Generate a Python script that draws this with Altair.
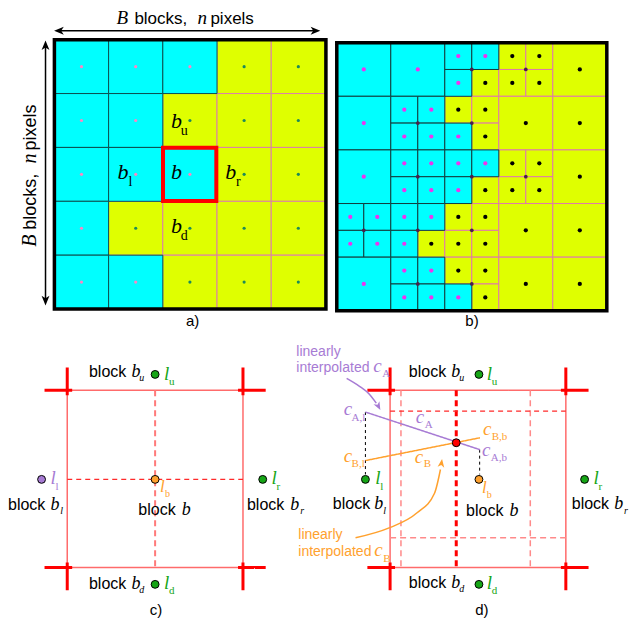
import altair as alt
import pandas as pd

# ---------------- colours ----------------
CYAN, YEL = "#00ffff", "#dfff00"
RED, LRED, DRED = "#ff0000", "#ff6b6b", "#ff2a2a"
PURPLE, ORANGE, GREEN = "#a77bd4", "#ffa12e", "#16a516"

# ---------------- panel a: 5x5 uniform blocks (C = cyan, Y = yellow) ----------------
A_ROWS = ["CCCYY", "CCYYY", "CCCYY", "CYYYY", "CCYYY"]
A_ORIGIN, A_CELL = (47, 38), (54.9, 54.4)

# ---------------- panel b: quadtree blocks (1 code = whole block, 4 codes = TL,TR,BL,BR) -------
B_ROWS = [["C", "C", "CCCY", "YYYY", "Y"],
          ["C", "CCCC", "YYCY", "Y", "Y"],
          ["C", "CCCC", "CCCY", "YYYY", "Y"],
          ["CCCC", "CCCY", "YYYY", "Y", "Y"],
          ["C", "CCCC", "YYCY", "Y", "Y"]]
B_ORIGIN, B_CELL = (333, 41), (54.7, 54.15)

cells, dots = [], []
for r, row in enumerate(A_ROWS):
    for c, code in enumerate(row):
        x = A_ORIGIN[0] + c * A_CELL[0]
        y = A_ORIGIN[1] + r * A_CELL[1]
        cy = code == "C"
        cells.append(dict(x=x, x2=x + A_CELL[0], y=y, y2=y + A_CELL[1],
                          fill=CYAN if cy else YEL, stroke="#0c4f4f" if cy else "#dc7fa9",
                          k=1 if cy else 0))
        dots.append(dict(x=x + A_CELL[0] / 2, y=y + A_CELL[1] / 2,
                         col="#ff85c2" if cy else "#1c8a5a", s=10))

for r, row in enumerate(B_ROWS):
    for c, code in enumerate(row):
        x0 = B_ORIGIN[0] + c * B_CELL[0]
        y0 = B_ORIGIN[1] + r * B_CELL[1]
        if len(code) == 1:
            parts = [(x0, y0, B_CELL[0], B_CELL[1], code)]
        else:
            hw, hh = B_CELL[0] / 2, B_CELL[1] / 2
            parts = [(x0 + (q % 2) * hw, y0 + (q // 2) * hh, hw, hh, code[q]) for q in range(4)]
        for (x, y, w, h, k) in parts:
            cy = k == "C"
            cells.append(dict(x=x, x2=x + w, y=y, y2=y + h,
                              fill=CYAN if cy else YEL, stroke="#123c3c" if cy else "#e07aa8",
                              k=1 if cy else 0))
            dots.append(dict(x=x + w / 2, y=y + h / 2, col="#ee33ee" if cy else "black", s=18))
        if len(code) == 4:
            dots.append(dict(x=x0 + B_CELL[0] / 2, y=y0 + B_CELL[1] / 2, col="#4a1f4a", s=14))

cells_df = pd.DataFrame(cells).sort_values("k", kind="stable")
dots_df = pd.DataFrame(dots)

# outlines: x, y, x2, y2, colour, width
FRAMES = [(47, 38, 322, 310, "black", 3.5),
          (157, 147, 211, 201, RED, 4),
          (333, 41, 606.5, 311.7, "black", 3.5)]
frames_df = pd.DataFrame(FRAMES, columns=["x", "y", "x2", "y2", "col", "w"])

# ---------------- panels c and d: block boxes with corner crosses ----------------
BOXES = [(60, 392, 238, 571), (387, 392, 565, 571)]
CROSS_OUT, CROSS_IN = 23, 5

SEGMENTS = []  # x, y, x2, y2, colour, width, dash
for (l, t, rr, b) in BOXES:
    SEGMENTS += [(l, t, rr, t, LRED, 1.5, "solid"), (l, b, rr, b, LRED, 1.5, "solid"),
                 (l, t, l, b, LRED, 1.5, "solid"), (rr, t, rr, b, LRED, 1.5, "solid")]
    for (cx, hx) in [(l, -1), (rr, 1)]:
        for (cyy, vy) in [(t, -1), (b, 1)]:
            SEGMENTS.append((cx + hx * CROSS_OUT, cyy, cx - hx * CROSS_IN, cyy, RED, 3, "solid"))
            SEGMENTS.append((cx, cyy + vy * CROSS_OUT, cx, cyy - vy * CROSS_IN, RED, 3, "solid"))

SEGMENTS += [
    # panel a arrows (shafts)
    (52, 29, 311, 29, "black", 1.5, "solid"),
    (38, 44, 38, 301, "black", 1.5, "solid"),
    # panel c dashed guides
    (149, 392, 149, 571, "#ff7a7a", 2, "d1"),
    (60, 482, 238, 482, DRED, 1.2, "d2"),
    # panel d dashed guides
    (398, 392, 398, 571, "#ff8a8a", 1.5, "d1"),
    (529, 392, 529, 571, "#ff8a8a", 1.5, "d1"),
    (454, 392, 454, 571, RED, 3, "d1"),
    (387, 413, 565, 413, DRED, 1.2, "d2"),
    (387, 541, 565, 541, "#ff8a8a", 1.5, "d1"),
    (362, 414, 362, 477, "black", 1, "d3"),
    (477.7, 452, 477.7, 477, "black", 1, "d3"),
    # interpolation lines
    (362, 414, 478, 452, PURPLE, 1.5, "solid"),
    (362, 463, 478, 440, ORANGE, 1.5, "solid"),
]
seg_df = pd.DataFrame(SEGMENTS, columns=["x", "y", "x2", "y2", "col", "w", "dash"])

# curved annotation arrows
CURVE_PURPLE = [(343, 380), (356, 388), (366, 396), (373, 405)]
CURVE_ORANGE = [(352, 541), (386, 531), (414, 516), (432, 496), (438, 472)]
curve_rows = []
for g, (pts, col) in enumerate([(CURVE_PURPLE, PURPLE), (CURVE_ORANGE, ORANGE)]):
    for i, (x, y) in enumerate(pts):
        curve_rows.append(dict(x=x, y=y, g=g, i=i, col=col))
curve_df = pd.DataFrame(curve_rows)

# arrow heads (stealth shape pointing up, rotated): x, y, angle, colour, size
ARROW_PATH = "M0,-1L0.75,0.85L0,0.35L-0.75,0.85Z"
HEADS = [(52, 29, 270, "black", 110), (311, 29, 90, "black", 110),
         (38, 44, 0, "black", 110), (38, 301, 180, "black", 110),
         (375, 408, 152, PURPLE, 80), (439, 466, 8, ORANGE, 80)]
heads_df = pd.DataFrame(HEADS, columns=["x", "y", "ang", "col", "s"])

# landmark points: x, y, colour
POINTS = [(149, 376, GREEN), (149, 588, GREEN), (34, 482, PURPLE), (258, 482, GREEN),
          (149, 482, ORANGE),
          (477, 376, GREEN), (477, 588, GREEN), (362, 482, GREEN), (584, 482, GREEN),
          (477, 482, ORANGE), (454, 445, RED)]
points_df = pd.DataFrame(POINTS, columns=["x", "y", "col"])

# ---------------- text ----------------
# text, x (left), y (baseline), size, colour, angle
SANS = [("blocks,", 128, 22, 17, "black", 0), ("pixels", 205, 22, 17, "black", 0),
        ("blocks,", 28, 230, 18, "black", 270), ("pixels", 28, 150, 18, "black", 270),
        ("block", 82, 379, 16, "black", 0), ("block", 0, 513, 16, "black", 0),
        ("block", 132, 518, 16, "black", 0), ("block", 242, 513, 16, "black", 0),
        ("block", 82, 593, 16, "black", 0),
        ("block", 406, 379, 16, "black", 0), ("block", 329, 512, 16, "black", 0),
        ("block", 464, 519, 16, "black", 0), ("block", 571, 512, 16, "black", 0),
        ("block", 406, 592, 16, "black", 0),
        ("linearly", 292, 357, 14, PURPLE, 0), ("interpolated", 292, 374, 14, PURPLE, 0),
        ("linearly", 294, 542, 14, ORANGE, 0), ("interpolated", 294, 559, 14, ORANGE, 0)]
CAPTIONS = [("a)", 187, 327), ("b)", 470, 327), ("c)", 150, 619), ("d)", 480, 619)]
SERIF_ITALIC = [("B", 110, 22, 19, "black", 0), ("n", 192, 22, 19, "black", 0),
                ("B", 28, 247, 20, "black", 270), ("n", 28, 163, 20, "black", 270),
                ("b", 165, 127, 22, "black", 0), ("b", 111, 179, 22, "black", 0),
                ("b", 165, 179, 22, "black", 0), ("b", 220, 179, 22, "black", 0),
                ("b", 165, 233, 22, "black", 0),
                ("b", 125, 379, 18, "black", 0), ("b", 43, 513, 18, "black", 0),
                ("b", 176, 518, 18, "black", 0), ("b", 286, 513, 18, "black", 0),
                ("b", 125, 593, 18, "black", 0),
                ("b", 449, 379, 18, "black", 0), ("b", 371, 512, 18, "black", 0),
                ("b", 508, 519, 18, "black", 0), ("b", 614, 512, 18, "black", 0),
                ("b", 449, 592, 18, "black", 0),
                ("l", 158, 382, 19, GREEN, 0), ("l", 43, 487, 19, PURPLE, 0),
                ("l", 154, 495, 17, ORANGE, 0), ("l", 267, 487, 19, GREEN, 0),
                ("l", 158, 593, 19, GREEN, 0),
                ("l", 485, 382, 19, GREEN, 0), ("l", 372, 487, 19, GREEN, 0),
                ("l", 480, 496, 17, ORANGE, 0), ("l", 593, 487, 19, GREEN, 0),
                ("l", 485, 593, 19, GREEN, 0),
                ("c", 370, 374, 19, PURPLE, 0), ("c", 340, 417, 19, PURPLE, 0),
                ("c", 413, 425, 19, PURPLE, 0), ("c", 480, 458, 19, PURPLE, 0),
                ("c", 371, 559, 19, ORANGE, 0), ("c", 340, 464, 19, ORANGE, 0),
                ("c", 412, 465, 19, ORANGE, 0), ("c", 481, 437, 19, ORANGE, 0),
                ("u", 133, 383, 10, "black", 0), ("l", 53, 517, 10, "black", 0),
                ("r", 296, 517, 10, "black", 0), ("d", 133, 597, 10, "black", 0),
                ("u", 457, 383, 10, "black", 0), ("l", 380, 517, 10, "black", 0),
                ("r", 624, 517, 10, "black", 0), ("d", 457, 596, 10, "black", 0)]
SERIF = [("u", 175, 134, 14, "black", 0), ("l", 122, 186, 14, "black", 0),
         ("r", 231, 186, 14, "black", 0), ("d", 175, 240, 14, "black", 0),
         ("u", 163, 387, 11, GREEN, 0), ("l", 48, 493, 11, PURPLE, 0),
         ("b", 159, 500, 10, ORANGE, 0), ("r", 272, 493, 11, GREEN, 0),
         ("d", 163, 598, 11, GREEN, 0),
         ("u", 490, 387, 11, GREEN, 0), ("l", 377, 493, 11, GREEN, 0),
         ("b", 485, 501, 10, ORANGE, 0), ("r", 598, 493, 11, GREEN, 0),
         ("d", 490, 598, 11, GREEN, 0),
         ("A", 379, 379, 11, PURPLE, 0), ("A,l", 348, 423, 11, PURPLE, 0),
         ("A", 422, 430, 11, PURPLE, 0), ("A,b", 489, 463, 11, PURPLE, 0),
         ("B", 380, 565, 11, ORANGE, 0), ("B,l", 348, 469, 11, ORANGE, 0),
         ("B", 421, 470, 11, ORANGE, 0), ("B,b", 490, 442, 11, ORANGE, 0)]

TCOLS = ["t", "x", "y", "s", "col", "ang"]
sans_df = pd.DataFrame(SANS, columns=TCOLS)
cap_df = pd.DataFrame(CAPTIONS, columns=["t", "x", "y"])
seri_df = pd.DataFrame(SERIF_ITALIC, columns=TCOLS)
serif_df = pd.DataFrame(SERIF, columns=TCOLS)

# ---------------- scales ----------------
sx = alt.Scale(domain=[0, 631], nice=False, zero=False)
sy = alt.Scale(domain=[6, 624], nice=False, zero=False, reverse=True)


def X(f="x"):
    return alt.X(f, type="quantitative", scale=sx, axis=None)


def Y(f="y"):
    return alt.Y(f, type="quantitative", scale=sy, axis=None)


cells_layer = alt.Chart(cells_df).mark_rect(strokeWidth=1, opacity=1).encode(
    x=X(), x2="x2", y=Y(), y2="y2",
    fill=alt.Fill("fill:N", scale=None), stroke=alt.Stroke("stroke:N", scale=None))

dots_layer = alt.Chart(dots_df).mark_circle(opacity=1).encode(
    x=X(), y=Y(), color=alt.Color("col:N", scale=None), size=alt.Size("s:Q", scale=None))

frames_layer = alt.Chart(frames_df).mark_rect(filled=False, opacity=1).encode(
    x=X(), x2="x2", y=Y(), y2="y2",
    stroke=alt.Stroke("col:N", scale=None), strokeWidth=alt.StrokeWidth("w:Q", scale=None))

seg_layer = alt.Chart(seg_df).mark_rule(strokeCap="butt").encode(
    x=X(), x2="x2", y=Y(), y2="y2",
    color=alt.Color("col:N", scale=None),
    strokeWidth=alt.StrokeWidth("w:Q", scale=None),
    strokeDash=alt.StrokeDash("dash:N", legend=None,
                              scale=alt.Scale(domain=["solid", "d1", "d2", "d3"],
                                              range=[[1, 0], [6, 4], [5, 4], [3, 3]])))

curve_layer = alt.Chart(curve_df).mark_line(interpolate="monotone", strokeWidth=1.5).encode(
    x=X(), y=Y(), detail="g:N", order="i:Q", color=alt.Color("col:N", scale=None))

heads_layer = alt.Chart(heads_df).mark_point(shape=ARROW_PATH, filled=True, opacity=1).encode(
    x=X(), y=Y(), angle=alt.Angle("ang:Q", scale=None),
    color=alt.Color("col:N", scale=None), size=alt.Size("s:Q", scale=None))

points_layer = alt.Chart(points_df).mark_circle(stroke="black", strokeWidth=1, opacity=1, size=62).encode(
    x=X(), y=Y(), fill=alt.Fill("col:N", scale=None))


def text_layer(df, font, style):
    return alt.Chart(df).mark_text(align="left", baseline="alphabetic", font=font,
                                   fontStyle=style).encode(
        x=X(), y=Y(), text="t:N", size=alt.Size("s:Q", scale=None),
        color=alt.Color("col:N", scale=None), angle=alt.Angle("ang:Q", scale=None))


sans_layer = text_layer(sans_df, "Liberation Sans", "normal")
seri_layer = text_layer(seri_df, "Liberation Serif", "italic")
serif_layer = text_layer(serif_df, "Liberation Serif", "normal")
cap_layer = alt.Chart(cap_df).mark_text(align="center", baseline="alphabetic",
                                        font="Liberation Sans", fontSize=15, color="black").encode(
    x=X(), y=Y(), text="t:N")

chart = alt.layer(cells_layer, dots_layer, frames_layer, seg_layer, curve_layer, heads_layer,
                  points_layer, sans_layer, seri_layer, serif_layer, cap_layer).properties(
    width=623, height=612, padding=0, autosize="none"
).configure_view(stroke=None)

chart.save("out.html", embed_options={"renderer": "svg", "actions": False})
